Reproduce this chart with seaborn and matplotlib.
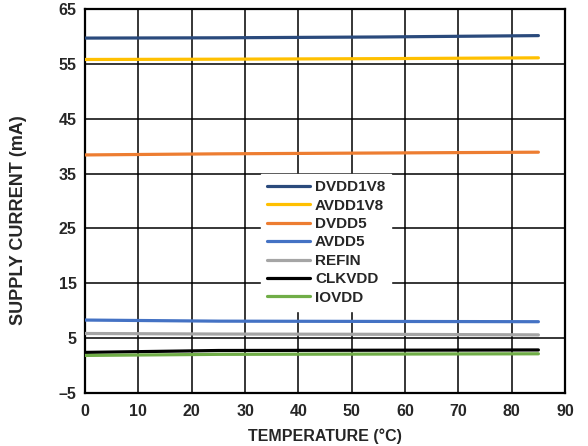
import matplotlib
matplotlib.use("Agg")
import matplotlib.pyplot as plt
import seaborn as sns
import pandas as pd

temperature = [0, 25, 55, 85]
dvdd1v8 = [59.7, 59.75, 59.9, 60.15]
avdd1v8 = [55.8, 55.85, 55.95, 56.1]
dvdd5 = [38.4, 38.6, 38.75, 38.9]
avdd5 = [8.3, 8.1, 8.05, 8.0]
refin = [5.85, 5.75, 5.7, 5.6]
clkvdd = [2.4, 2.75, 2.8, 2.85]
iovdd = [1.85, 2.05, 2.1, 2.15]

series_names = ["DVDD1V8", "AVDD1V8", "DVDD5", "AVDD5", "REFIN", "CLKVDD", "IOVDD"]
series_values = [dvdd1v8, avdd1v8, dvdd5, avdd5, refin, clkvdd, iovdd]
colors = ["#2A4A7C", "#FFC000", "#ED7D31", "#4472C4", "#A5A5A5", "#000000", "#70AD47"]

x_ticks = [0, 10, 20, 30, 40, 50, 60, 70, 80, 90]
y_ticks = [-5, 5, 15, 25, 35, 45, 55, 65]
y_tick_labels = ["\u20135", "5", "15", "25", "35", "45", "55", "65"]

rows = []
for name, vals in zip(series_names, series_values):
    for t, v in zip(temperature, vals):
        rows.append({"Temperature": t, "Current": v, "Series": name})
df = pd.DataFrame(rows)

sns.set_style("white")
plt.rcParams["font.family"] = ["Liberation Sans", "DejaVu Sans"]
plt.rcParams["font.weight"] = "bold"

fig = plt.figure(figsize=(5.88, 4.46), dpi=100)
ax = fig.add_axes([0.1446, 0.1188, 0.8164, 0.861])

sns.lineplot(data=df, x="Temperature", y="Current", hue="Series",
             hue_order=series_names, palette=colors, linewidth=2.3,
             ax=ax, legend=True, zorder=3)

ax.set_xlim(0, 90)
ax.set_ylim(-5, 65)
ax.set_xticks(x_ticks)
ax.set_yticks(y_ticks)
ax.set_yticklabels(y_tick_labels)
ax.grid(True, color="black", linewidth=1.1, zorder=1)
ax.set_axisbelow(True)
for sp in ax.spines.values():
    sp.set_color("black")
    sp.set_linewidth(1.6)
ax.tick_params(axis="both", labelsize=11.5, length=0)
ax.tick_params(axis="x", pad=8)
ax.tick_params(axis="y", pad=6)
for lbl in ax.get_xticklabels() + ax.get_yticklabels():
    lbl.set_fontweight("bold")

ax.set_xlabel("TEMPERATURE (\u00b0C)", fontsize=11.5, fontweight="bold", labelpad=7)
ax.set_ylabel("SUPPLY CURRENT (mA)", fontsize=13, fontweight="bold")
ax.yaxis.set_label_coords(-0.12, 0.45)

handles, labels = ax.get_legend_handles_labels()
leg = ax.legend(handles, labels, loc="upper left", bbox_to_anchor=(0.35, 0.59),
                frameon=True, fancybox=False, framealpha=1, edgecolor="white",
                fontsize=11, handlelength=2.8, handletextpad=0.35,
                labelspacing=0.29, borderpad=0.4)
for t in leg.get_texts():
    t.set_fontweight("bold")
for l in leg.get_lines():
    l.set_linewidth(2.3)
leg.set_zorder(5)

fig.savefig("out.png", dpi=100)
